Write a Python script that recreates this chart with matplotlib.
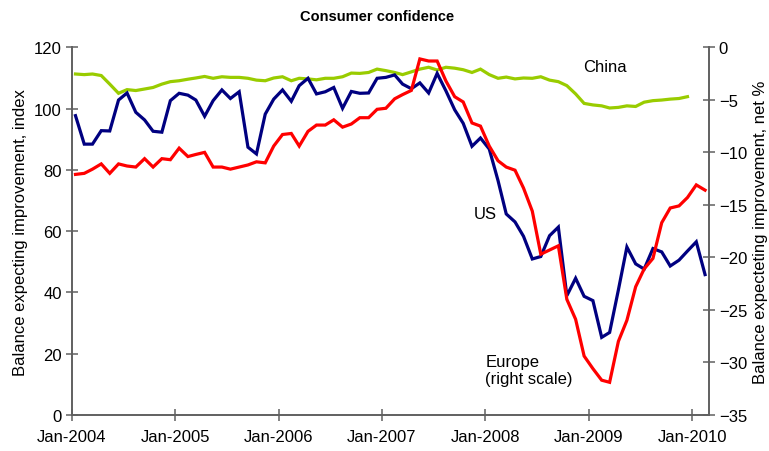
import numpy as np
import pandas as pd
import matplotlib
matplotlib.use("Agg")
import matplotlib.pyplot as plt
import matplotlib.dates as mdates

plt.rcParams['font.family'] = ['Liberation Sans', 'DejaVu Sans']

# monthly observations, Jan-2004 onwards
us = [97.7, 88.4, 88.4, 92.8, 92.7, 102.8, 105.1, 98.8, 96.3, 92.6, 92.3, 102.6,
      105.0, 104.4, 102.8, 97.5, 102.6, 106.1, 103.3, 105.5, 87.4, 85.2, 98.2, 103.1,
      106.1, 102.4, 107.5, 109.9, 104.8, 105.5, 106.9, 100.1, 105.6, 105.0, 105.1, 109.9,
      110.2, 111.0, 108.0, 106.5, 108.4, 105.1, 111.5, 105.8, 99.6, 95.2, 87.7, 90.4,
      86.8, 76.5, 65.6, 63.0, 58.3, 50.9, 51.7, 58.5, 61.3, 38.9, 44.6, 38.7,
      37.3, 25.3, 26.9, 40.8, 54.8, 49.3, 47.6, 54.3, 53.2, 48.6, 50.5, 53.5,
      56.5, 45.8]

europe = [-12.1, -12.0, -11.6, -11.1, -12.0, -11.1, -11.3, -11.4, -10.6, -11.4, -10.6, -10.7,
          -9.6, -10.4, -10.2, -10.0, -11.4, -11.4, -11.6, -11.4, -11.2, -10.9, -11.0, -9.4,
          -8.3, -8.2, -9.4, -8.0, -7.4, -7.4, -6.9, -7.6, -7.3, -6.7, -6.7, -5.9,
          -5.8, -4.9, -4.5, -4.1, -1.1, -1.3, -1.3, -3.2, -4.7, -5.2, -7.2, -7.5,
          -9.4, -10.8, -11.4, -11.7, -13.4, -15.6, -19.7, -19.3, -18.9, -24.0, -25.9, -29.4,
          -30.6, -31.7, -31.9, -28.0, -26.0, -22.8, -21.1, -20.1, -16.7, -15.3, -15.1, -14.3,
          -13.1, -13.6]

china = [111.3, 111.1, 111.3, 110.8, 108.0, 105.0, 106.2, 105.9, 106.4, 106.9, 108.0, 108.8,
         109.1, 109.6, 110.0, 110.5, 109.9, 110.4, 110.2, 110.2, 109.9, 109.3, 109.1, 110.0,
         110.4, 109.1, 109.9, 109.7, 109.4, 109.9, 109.9, 110.4, 111.6, 111.5, 111.8, 112.9,
         112.4, 111.8, 111.1, 112.0, 112.9, 113.5, 112.6, 113.5, 113.2, 112.7, 111.8, 112.9,
         111.1, 109.9, 110.3, 109.7, 110.0, 109.9, 110.4, 109.3, 108.8, 107.5, 104.8, 101.7,
         101.2, 100.9, 100.2, 100.4, 100.9, 100.7, 102.1, 102.6, 102.8, 103.1, 103.3, 103.9]

# mid-month dates
dates = pd.date_range('2004-01-01', periods=len(us), freq='MS') + pd.Timedelta(days=14)

navy = '#000080'
red = '#FF0000'
green = '#99CC00'
axcol = '#606060'

fig = plt.figure(figsize=(7.69, 4.52), dpi=100)
ax = fig.add_axes([0.093, 0.080, 0.829, 0.813])
ax2 = ax.twinx()

ax.plot(dates[:len(china)], china, color=green, lw=2.3, solid_joinstyle='miter')
ax.plot(dates, us, color=navy, lw=2.3, solid_joinstyle='miter')
ax2.plot(dates, europe, color=red, lw=2.3, solid_joinstyle='miter')

ax.set_xlim(pd.Timestamp('2004-01-01'), pd.Timestamp('2010-03-01'))
ax.set_ylim(0, 120)
ax.set_yticks(np.arange(0, 121, 20))
ax2.set_ylim(-35, 0)
ax2.set_yticks(np.arange(-35, 1, 5))

ax.xaxis.set_major_locator(mdates.YearLocator())
ax.xaxis.set_major_formatter(mdates.DateFormatter('%b-%Y'))

for a in (ax, ax2):
    a.spines['top'].set_visible(False)
    for s in a.spines.values():
        s.set_color(axcol)
        s.set_linewidth(1.2)
    a.tick_params(direction='inout', length=8, width=1.1, color=axcol,
                  labelsize=12, pad=3)
ax.tick_params(axis='x', pad=6)

ax.set_ylabel('Balance expecting improvement, index', fontsize=12)
ax2.set_ylabel('Balance expecteting improvement, net %', fontsize=12)

fig.text(0.49, 0.963, 'Consumer confidence', ha='center', va='center',
         fontsize=10.5, fontweight='bold')

ax.text(pd.Timestamp('2009-02-25'), 113.6, 'China', fontsize=12, ha='center', va='center')
ax.text(pd.Timestamp('2008-01-01'), 65.8, 'US', fontsize=12, ha='center', va='center')
ax.text(pd.Timestamp('2008-01-01'), -30.7, 'Europe\n(right scale)', fontsize=12,
        ha='left', va='center', linespacing=1.15, transform=ax2.transData)

fig.savefig('out.png', dpi=100)
